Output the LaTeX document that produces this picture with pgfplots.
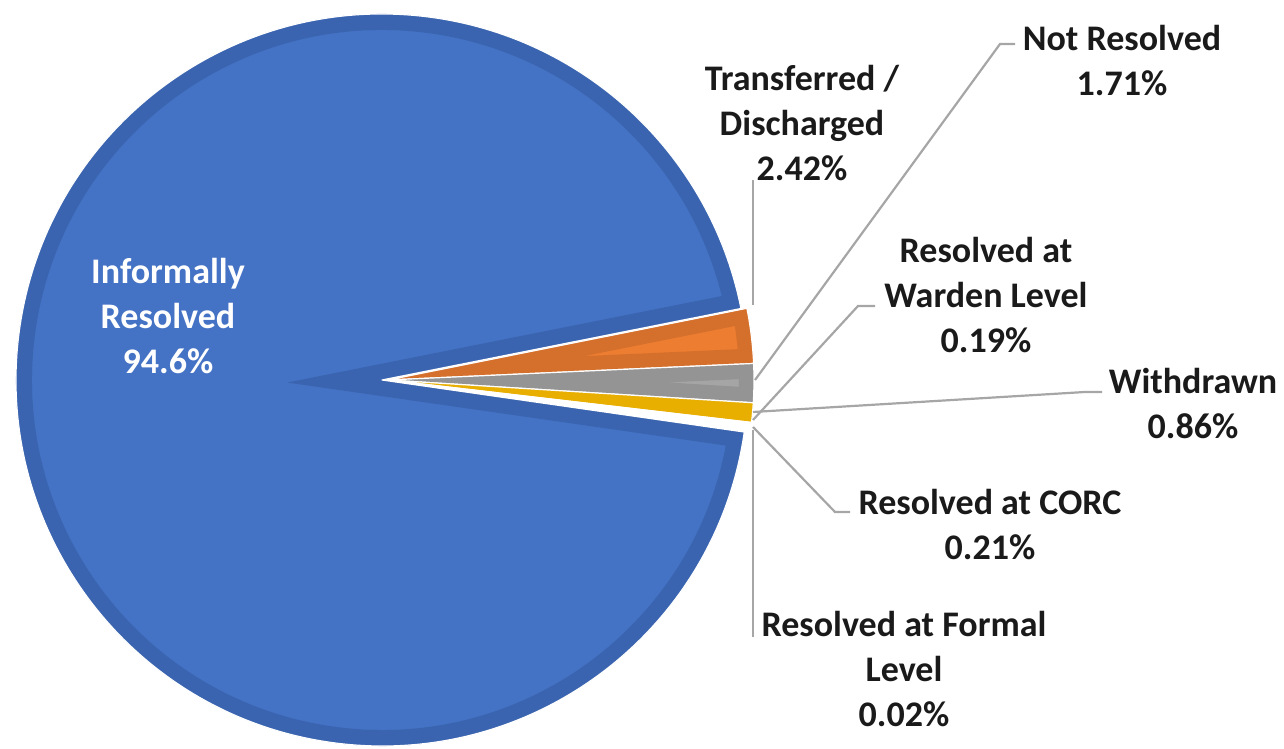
\documentclass[border=0pt]{standalone}
\usepackage{pgfplots}
\pgfplotsset{compat=1.18}
\usepackage{fontspec}
\setmainfont{Carlito}
\definecolor{blueA}{HTML}{4472C4}
\definecolor{blueD}{HTML}{3A64AF}
\definecolor{orA}{HTML}{ED7D31}
\definecolor{orD}{HTML}{D5702C}
\definecolor{grA}{HTML}{A5A5A5}
\definecolor{grD}{HTML}{949494}
\definecolor{yeA}{HTML}{FFC000}
\definecolor{yeD}{HTML}{E8AE00}
\definecolor{leader}{HTML}{A6A6A6}
\definecolor{txt}{HTML}{1A1A1A}
% shares (percent)
\def\vInf{94.6}\def\vTra{2.42}\def\vNot{1.71}\def\vWit{0.86}\def\vWar{0.19}\def\vCor{0.21}\def\vFor{0.02}
\def\startangle{11.3}
\pgfmathsetmacro\aA{\startangle}
\pgfmathsetmacro\aB{\aA-\vTra*3.6}
\pgfmathsetmacro\aC{\aB-\vNot*3.6}
\pgfmathsetmacro\aD{\aC-\vWit*3.6}
\pgfmathsetmacro\aE{\aD-\vWar*3.6}
\pgfmathsetmacro\aF{\aE-\vCor*3.6}
\pgfmathsetmacro\aG{\aF-\vFor*3.6}
\pgfmathsetmacro\aH{\aG-\vInf*3.6}
\def\R{183pt}
\newcommand\slicepath[4]{(axis cs:#1,#2) -- ++(#3:\R) arc[start angle=#3, end angle=#4, radius=\R] -- cycle}
\newcommand\slice[7]{%
  \begin{scope}
    \clip \slicepath{#1}{#2}{#3}{#4};
    \fill[#5] \slicepath{#1}{#2}{#3}{#4};
    \draw[#6, line width=#7] \slicepath{#1}{#2}{#3}{#4};
  \end{scope}
  \draw[white, line width=0.6pt, line join=round] \slicepath{#1}{#2}{#3}{#4};
}
\tikzset{lbl/.style={font=\fontsize{18}{22.5}\selectfont\bfseries, align=center, text=txt, inner sep=0pt}}
\begin{document}
\begin{tikzpicture}
\useasboundingbox (0,0) rectangle (642pt,374.5pt);
\begin{axis}[
  width=642pt, height=374.5pt, scale only axis,
  xmin=0, xmax=1284, ymin=0, ymax=749,
  hide axis, clip=false,
]
\pgfplotsextra{
  \slice{382}{369}{\aG}{\aH}{blueA}{blueD}{16pt}
  \slice{388}{369}{\aA}{\aB}{orA}{orD}{15pt}
  \slice{388}{369}{\aB}{\aC}{grA}{grD}{15pt}
  \slice{388}{369}{\aC}{\aD}{yeA}{yeD}{15pt}
  \slice{388}{369}{\aD}{\aE}{white}{white}{1pt}
  \slice{388}{369}{\aE}{\aF}{white}{white}{1pt}
  \slice{388}{369}{\aF}{\aG}{white}{white}{1pt}
}
\draw[leader, line width=1.1pt] (axis cs:753,569) -- (axis cs:753,444);
\draw[leader, line width=1.1pt] (axis cs:755,369) -- (axis cs:1000,705) -- (axis cs:1015,705);
\draw[leader, line width=1.1pt] (axis cs:753,329) -- (axis cs:858,443) -- (axis cs:875,443);
\draw[leader, line width=1.1pt] (axis cs:753,337) -- (axis cs:1085,357) -- (axis cs:1102,357);
\draw[leader, line width=1.1pt] (axis cs:753,322) -- (axis cs:835,237) -- (axis cs:850,237);
\draw[leader, line width=1.1pt] (axis cs:753,319) -- (axis cs:753,112);
\node[lbl, text=white] at (axis cs:168,433) {Informally\\Resolved\\94.6\%};
\node[lbl] at (axis cs:802,626) {Transferred /\\Discharged\\2.42\%};
\node[lbl] at (axis cs:1122,688.5) {Not Resolved\\1.71\%};
\node[lbl] at (axis cs:986,454) {Resolved at\\Warden Level\\0.19\%};
\node[lbl] at (axis cs:1193,345.5) {Withdrawn\\0.86\%};
\node[lbl] at (axis cs:990,224.5) {Resolved at CORC\\0.21\%};
\node[lbl] at (axis cs:904,80) {Resolved at Formal\\Level\\0.02\%};
\end{axis}
\end{tikzpicture}
\end{document}
